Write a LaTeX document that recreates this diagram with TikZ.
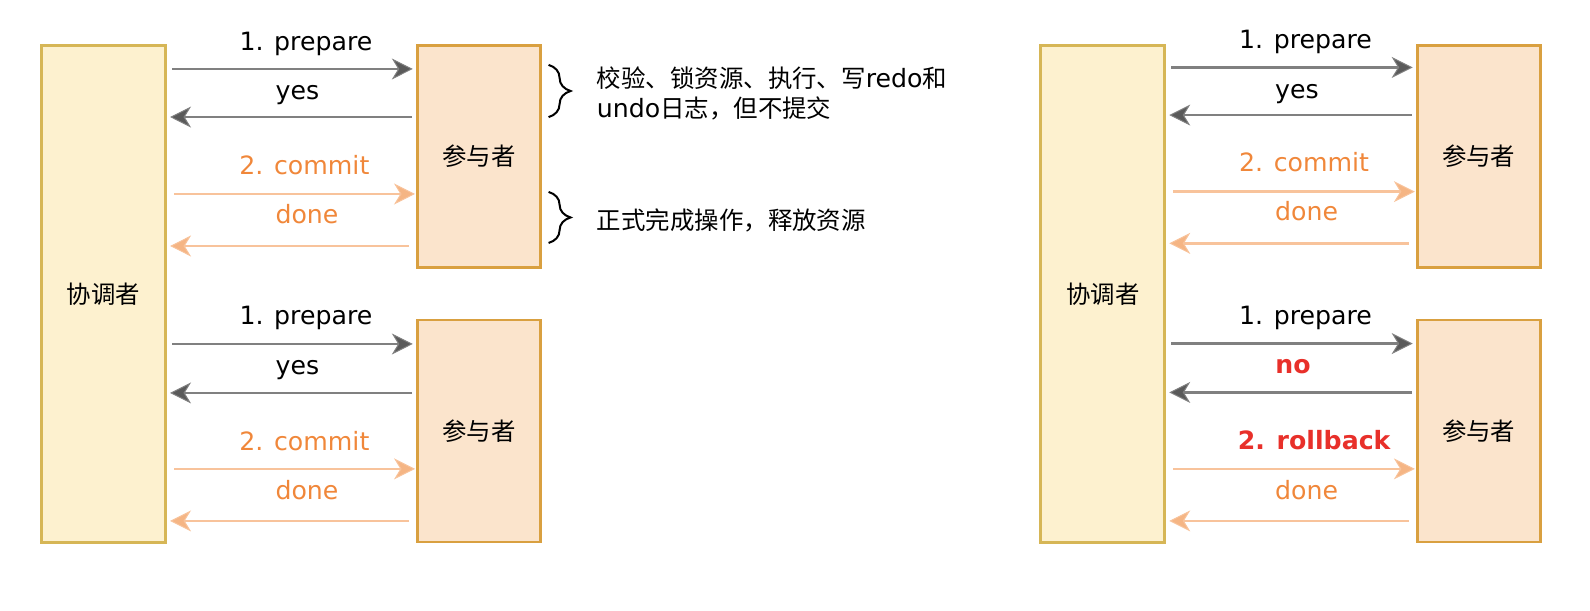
\documentclass[tikz,border=0pt]{standalone}
\usepackage{fontspec}
\setmainfont{DejaVu Sans}
\newfontfamily\cjk[Scale=0.97]{Noto Sans CJK SC}
\usetikzlibrary{calc,arrows.meta,decorations.pathreplacing}
\definecolor{coordfill}{HTML}{FDF1CF}
\definecolor{coorddraw}{HTML}{D6B656}
\definecolor{partfill}{HTML}{FBE4CC}
\definecolor{partdraw}{HTML}{D9A040}
\definecolor{msggray}{HTML}{808080}
\definecolor{msgdark}{HTML}{5A5A5A}
\definecolor{msgorange}{HTML}{F8C39B}
\definecolor{msghead}{HTML}{F5B584}
\definecolor{txtorange}{HTML}{F0873A}
\definecolor{txtred}{HTML}{E8302A}
\def\zh#1{{\cjk #1}}
\tikzset{
	coordbox/.style={draw=coorddraw, fill=coordfill, line width=1.4pt, minimum width=62pt, minimum height=248.5pt, font=\fontsize{12.6}{15}\cjk},
	partbox/.style={draw=partdraw, fill=partfill, line width=1.4pt, minimum width=61.5pt, minimum height=111pt, font=\fontsize{12.6}{15}\cjk},
	ask/.style={draw=msggray, line width=1.3pt, -{Stealth[length=10.5pt,width=10.5pt,inset=3.2pt,fill=msgdark,line width=0.5pt]}},
	act/.style={draw=msgorange, line width=1.3pt, -{Stealth[length=10.5pt,width=10.5pt,inset=3.2pt,fill=msghead,line width=0.5pt]}},
	lbl/.style={inner sep=0pt, anchor=base, font=\fontsize{12.6}{15}\selectfont},
	note/.style={inner sep=0pt, anchor=base west, align=left, font=\fontsize{12.6}{15}\selectfont},
	curly/.style={decorate, decoration={brace, amplitude=11pt}, line width=1pt}
}
\begin{document}
\begin{tikzpicture}[x=0.50702pt,y=-0.50702pt]
	\useasboundingbox (0,0) rectangle (1568,601.6);
	%%%%% LEFT: COMMIT %%%%%
	\node[coordbox] (coordL) at (102.2,289.9) {协调者};
	\node[partbox] (partLA) at (472.3,154.3) {参与者};
	\node[partbox] (partLB) at (472.3,425) {参与者};
	
	\draw[ask, shorten <=2.5pt, shorten >=1.6pt] (coordL.east |- 0,68) -- (partLA.west |- 0,68);
	\draw[ask, shorten <=2pt, shorten >=1.5pt] (partLA.west |- 0,115.4) -- (coordL.east |- 0,115.4);
	\draw[act, shorten <=3.5pt, shorten >=0.5pt] (coordL.east |- 0,191.3) -- (partLA.west |- 0,191.3);
	\draw[act, shorten <=3.5pt, shorten >=1.5pt] (partLA.west |- 0,242.6) -- (coordL.east |- 0,242.6);
	\node[lbl] (prepLA) at (301.7,50.3) {1. prepare};
	\node[lbl] (yesLA) at (293.3,98.6) {yes};
	\node[lbl, text=txtorange] (comLA) at (300.2,172.5) {2. commit};
	\node[lbl, text=txtorange] (doneLA) at (302.7,220.9) {done};
	
	\draw[ask, shorten <=2.5pt, shorten >=1.6pt] (coordL.east |- 0,339.2) -- (partLB.west |- 0,339.2);
	\draw[ask, shorten <=2pt, shorten >=1.5pt] (partLB.west |- 0,387.5) -- (coordL.east |- 0,387.5);
	\draw[act, shorten <=3.5pt, shorten >=0.5pt] (coordL.east |- 0,462.4) -- (partLB.west |- 0,462.4);
	\draw[act, shorten <=3.5pt, shorten >=1.5pt] (partLB.west |- 0,513.7) -- (coordL.east |- 0,513.7);
	\node[lbl] (prepLB) at (301.7,320.4) {1. prepare};
	\node[lbl] (yesLB) at (293.3,369.7) {yes};
	\node[lbl, text=txtorange] (comLB) at (300.2,444.7) {2. commit};
	\node[lbl, text=txtorange] (doneLB) at (302.7,493) {done};
	
	% notes on the first participant
	\draw[curly] (541,64) -- (541,115.5);
	\draw[curly] (541,189.3) -- (541,239.6);
	\node[note] (noteA) at (588.3,116) {\zh{校验、锁资源、执行、写}redo\zh{和}\\undo\zh{日志，但不提交}};
	\node[note] (noteB) at (588.3,226.8) {\zh{正式完成操作，释放资源}};
	
	%%%%% RIGHT: ROLLBACK %%%%%
	\node[coordbox] (coordR) at (1087.6,289.9) {协调者};
	\node[partbox] (partRA) at (1458.3,154.3) {参与者};
	\node[partbox] (partRB) at (1458.3,425) {参与者};
	
	\draw[ask, shorten <=2.5pt, shorten >=1.6pt] (coordR.east |- 0,66.5) -- (partRA.west |- 0,66.5);
	\draw[ask, shorten <=2pt, shorten >=1.5pt] (partRA.west |- 0,113.5) -- (coordR.east |- 0,113.5);
	\draw[act, shorten <=3.5pt, shorten >=0.5pt] (coordR.east |- 0,189) -- (partRA.west |- 0,189);
	\draw[act, shorten <=3.5pt, shorten >=1.5pt] (partRA.west |- 0,240) -- (coordR.east |- 0,240);
	\node[lbl] (prepRA) at (1287.5,47.8) {1. prepare};
	\node[lbl] (yesRA) at (1279,97) {yes};
	\node[lbl, text=txtorange] (comRA) at (1286,169.5) {2. commit};
	\node[lbl, text=txtorange] (doneRA) at (1288.5,217.5) {done};
	
	\draw[ask, shorten <=2.5pt, shorten >=1.6pt] (coordR.east |- 0,338.8) -- (partRB.west |- 0,338.8);
	\draw[ask, shorten <=2pt, shorten >=1.5pt] (partRB.west |- 0,387) -- (coordR.east |- 0,387);
	\draw[act, shorten <=3.5pt, shorten >=0.5pt] (coordR.east |- 0,462.4) -- (partRB.west |- 0,462.4);
	\draw[act, shorten <=3.5pt, shorten >=1.5pt] (partRB.west |- 0,513.7) -- (coordR.east |- 0,513.7);
	\node[lbl] (prepRB) at (1287.5,320.4) {1. prepare};
	\node[lbl, text=txtred, font=\fontsize{12.6}{15}\bfseries] (noRB) at (1275.2,368.8) {no};
	\node[lbl, text=txtred, font=\fontsize{12.6}{15}\bfseries] (rollRB) at (1296,443.7) {2. rollback};
	\node[lbl, text=txtorange] (doneRB) at (1288.5,493) {done};
	%%%%% END %%%%%
\end{tikzpicture}
\end{document}
